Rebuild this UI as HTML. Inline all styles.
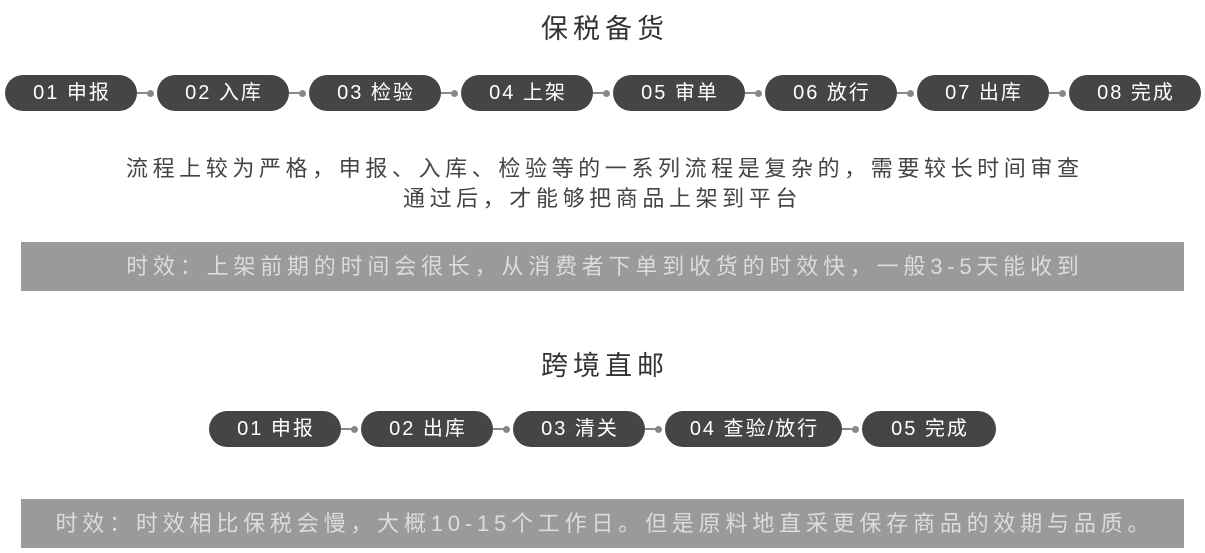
<!DOCTYPE html>
<html><head><meta charset="utf-8"><style>
body{margin:0;width:1205px;height:553px;background:#fff;position:relative;overflow:hidden;font-family:"Liberation Sans","Noto Sans CJK SC",sans-serif;}
.t{position:absolute;left:0;width:1205px;text-align:center;color:#333;}
.p{position:absolute;width:132px;height:36px;border-radius:18px;background:#454545;color:#fff;font-size:20px;line-height:36px;text-align:center;letter-spacing:2px;text-indent:2px;}
.c{position:absolute;width:14px;height:2px;background:#888;}
.d{position:absolute;width:7px;height:7px;border-radius:50%;background:#888;}
.bar{position:absolute;left:21px;width:1163px;height:49px;background:#9a9a9a;color:#dcdcdc;font-size:22px;line-height:49px;text-align:center;letter-spacing:4.8px;text-indent:4.8px;}
</style></head><body>
<div class="t" style="top:7px;font-size:27px;letter-spacing:5px;text-indent:5px;">保税备货</div>
<div class="p" style="left:5px;top:75px">01 申报</div>
<div class="p" style="left:157px;top:75px">02 入库</div>
<div class="p" style="left:309px;top:75px">03 检验</div>
<div class="p" style="left:461px;top:75px">04 上架</div>
<div class="p" style="left:613px;top:75px">05 审单</div>
<div class="p" style="left:765px;top:75px">06 放行</div>
<div class="p" style="left:917px;top:75px">07 出库</div>
<div class="p" style="left:1069px;top:75px">08 完成</div>
<div class="c" style="left:137px;top:92px"></div><div class="d" style="left:147px;top:89.5px"></div>
<div class="c" style="left:289px;top:92px"></div><div class="d" style="left:299px;top:89.5px"></div>
<div class="c" style="left:441px;top:92px"></div><div class="d" style="left:451px;top:89.5px"></div>
<div class="c" style="left:593px;top:92px"></div><div class="d" style="left:603px;top:89.5px"></div>
<div class="c" style="left:745px;top:92px"></div><div class="d" style="left:755px;top:89.5px"></div>
<div class="c" style="left:897px;top:92px"></div><div class="d" style="left:907px;top:89.5px"></div>
<div class="c" style="left:1049px;top:92px"></div><div class="d" style="left:1059px;top:89.5px"></div>
<div class="t" style="top:154px;font-size:22px;line-height:30px;color:#444;letter-spacing:4.6px;text-indent:4.6px;">流程上较为严格，申报、入库、检验等的一系列流程是复杂的，需要较长时间审查<br>通过后，才能够把商品上架到平台</div>
<div class="bar" style="top:242px">时效：上架前期的时间会很长，从消费者下单到收货的时效快，一般3-5天能收到</div>
<div class="t" style="top:344px;font-size:27px;letter-spacing:5px;text-indent:5px;">跨境直邮</div>
<div class="p" style="left:209px;top:411px">01 申报</div>
<div class="p" style="left:361px;top:411px">02 出库</div>
<div class="p" style="left:513px;top:411px">03 清关</div>
<div class="p" style="left:665px;top:411px;width:177px">04 查验/放行</div>
<div class="p" style="left:862px;top:411px;width:134px">05 完成</div>
<div class="c" style="left:341px;top:428px"></div><div class="d" style="left:351px;top:425.5px"></div>
<div class="c" style="left:493px;top:428px"></div><div class="d" style="left:503px;top:425.5px"></div>
<div class="c" style="left:645px;top:428px"></div><div class="d" style="left:655px;top:425.5px"></div>
<div class="c" style="left:842px;top:428px"></div><div class="d" style="left:852px;top:425.5px"></div>
<div class="bar" style="top:499px">时效：时效相比保税会慢，大概10-15个工作日。但是原料地直采更保存商品的效期与品质。</div>
</body></html>
